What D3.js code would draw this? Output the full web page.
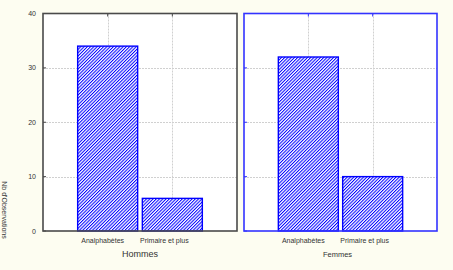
<!DOCTYPE html>
<html>
<head>
<meta charset="utf-8">
<script src="https://cdn.jsdelivr.net/npm/d3@7/dist/d3.min.js"></script>
<style>
  body { margin: 0; background: #fdfdf1; }
  svg { display: block; font-family: "Liberation Sans", Arial, sans-serif; }
</style>
</head>
<body>
<div id="chart"></div>
<script>
// data
var categories = ["Analphabètes", "Primaire et plus"];
var panels = ["Hommes", "Femmes"];
var hommes = [34, 6];
var femmes = [32, 10];
var yTicks = [0, 10, 20, 30, 40];

var width = 453, height = 270;
var svg = d3.select("#chart").append("svg")
  .attr("width", width)
  .attr("height", height);

// hatch pattern for the bars
var pat = svg.append("defs").append("pattern")
  .attr("id", "hatch")
  .attr("patternUnits", "userSpaceOnUse")
  .attr("width", 2.3).attr("height", 2.3)
  .attr("patternTransform", "rotate(45)");
pat.append("rect").attr("width", 2.3).attr("height", 2.3).attr("fill", "#fff");
pat.append("line")
  .attr("x1", 0.5).attr("y1", 0).attr("x2", 0.5).attr("y2", 2.3)
  .attr("stroke", "#0000ff").attr("stroke-width", 1);

var plotTop = 13.5, plotBottom = 231;
var y = d3.scaleLinear().domain([0, 40]).range([plotBottom, plotTop]);

var panelX = [[43, 237], [244, 437]];
var values = [hommes, femmes];
var frameColor = ["#4a4a4a", "#3333ff"];

panels.forEach(function(name, i) {
  var x0 = panelX[i][0], x1 = panelX[i][1];
  var x = d3.scalePoint().domain(categories).range([x0, x1]).padding(1);
  var g = svg.append("g");

  g.append("rect")
    .attr("x", x0).attr("y", plotTop)
    .attr("width", x1 - x0).attr("height", plotBottom - plotTop)
    .attr("fill", "#fff");

  // grid lines
  g.selectAll(".hg").data(yTicks.slice(1, 4)).enter().append("line")
    .attr("x1", x0).attr("x2", x1)
    .attr("y1", function(d) { return Math.round(y(d)) + 0.5; })
    .attr("y2", function(d) { return Math.round(y(d)) + 0.5; })
    .attr("stroke", "#d0d0d0").attr("stroke-dasharray", "2,1");
  g.selectAll(".vg").data(categories).enter().append("line")
    .attr("x1", function(d) { return Math.round(x(d)) + 0.5; })
    .attr("x2", function(d) { return Math.round(x(d)) + 0.5; })
    .attr("y1", plotTop).attr("y2", plotBottom)
    .attr("stroke", "#d0d0d0").attr("stroke-dasharray", "2,1");

  // bars
  var bw = 60;
  g.selectAll(".bar").data(values[i]).enter().append("rect")
    .attr("x", function(d, j) { return x(categories[j]) - bw / 2; })
    .attr("y", function(d) { return y(d); })
    .attr("width", bw)
    .attr("height", function(d) { return y(0) - y(d); })
    .attr("fill", "url(#hatch)")
    .attr("stroke", "#0000ff").attr("stroke-width", 1.4);

  // small ticks on frame
  g.selectAll(".tt").data(categories).enter().append("line")
    .attr("x1", function(d) { return x(d); }).attr("x2", function(d) { return x(d); })
    .attr("y1", plotTop).attr("y2", plotTop + 3)
    .attr("stroke", frameColor[i]);
  g.selectAll(".lt").data(yTicks).enter().append("line")
    .attr("x1", x0).attr("x2", x0 + 3)
    .attr("y1", function(d) { return y(d); }).attr("y2", function(d) { return y(d); })
    .attr("stroke", frameColor[i]);

  // frame
  g.append("rect")
    .attr("x", x0).attr("y", plotTop)
    .attr("width", x1 - x0).attr("height", plotBottom - plotTop)
    .attr("fill", "none")
    .attr("stroke", frameColor[i]).attr("stroke-width", 1.6);

  // category labels
  g.selectAll(".cl").data(categories).enter().append("text")
    .attr("x", function(d, j) { return x(d) - (j ? 8 : 5); })
    .attr("y", 243)
    .attr("text-anchor", "middle")
    .attr("font-size", 7)
    .attr("fill", "#333")
    .text(function(d) { return d; });

  g.append("text")
    .attr("x", (x0 + x1) / 2 - (i ? 3 : 0))
    .attr("y", 257)
    .attr("text-anchor", "middle")
    .attr("font-size", i ? 7.5 : 9)
    .attr("fill", "#333")
    .text(name);
});

// y axis labels
svg.selectAll(".yl").data(yTicks).enter().append("text")
  .attr("x", 36)
  .attr("y", function(d) { return y(d) + 2.5; })
  .attr("text-anchor", "end")
  .attr("font-size", 7)
  .attr("fill", "#333")
  .text(function(d) { return d; });

svg.append("text")
  .attr("transform", "translate(2,210) rotate(90)")
  .attr("text-anchor", "middle")
  .attr("font-size", 7)
  .attr("fill", "#333")
  .text("Nb d'Observations");
</script>
</body>
</html>
